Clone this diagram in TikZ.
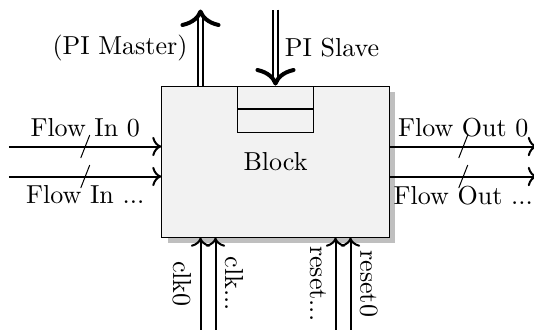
\documentclass[tikz,border=0pt]{standalone}
\usetikzlibrary{positioning,calc,shadows,arrows.meta}

\begin{document}
\begin{tikzpicture}[
  font=\fontsize{10.4}{12.5}\selectfont,
  block/.style={rectangle, draw, fill=black!5,
                minimum width=90.8pt, minimum height=60.4pt,
                general shadow={fill=gray!50, shadow xshift=2.4pt, shadow yshift=-2.4pt}},
  cell/.style={rectangle, draw, minimum width=30.4pt, minimum height=9pt, inner sep=0pt},
  arr/.style={-{To[scale=1.1]}, thick},
  piline/.style={thick, double, double distance=0.9pt, shorten >=1.6pt},
  pitip/.style={-{To[length=7pt, width=16pt, line width=1.6pt]}},
  busmark/.style={thin},
  sig/.style={rotate=-90},
]
  % Block with its FIFO
  \node[block] (block) {Block};
  \node[cell, below=0pt of block.north] (fifo1) {};
  \node[cell, below=0pt of fifo1] (fifo2) {};

  \useasboundingbox ($(block.center)+(-110.2pt,64.6pt)$) rectangle ($(block.center)+(103.4pt,-67pt)$);

  % Flow inputs
  \coordinate (in0) at ($(block.west)+(-61pt,6pt)$);
  \coordinate (inN) at ($(block.west)+(-61pt,-6pt)$);
  \draw[arr] (in0) -- coordinate[midway] (in0m) node[midway, above] (lin0) {Flow In 0} (in0 -| block.west);
  \draw[arr] (inN) -- coordinate[midway] (inNm) node[midway, below] (linN) {Flow In ...} (inN -| block.west);
  \draw[busmark] ($(in0m)+(1.8pt,4.6pt)$) -- ($(in0m)+(-1.8pt,-4.6pt)$);
  \draw[busmark] ($(inNm)+(1.8pt,4.6pt)$) -- ($(inNm)+(-1.8pt,-4.6pt)$);

  % Flow outputs
  \coordinate (out0) at ($(block.east)+(59pt,6pt)$);
  \coordinate (outN) at ($(block.east)+(59pt,-6pt)$);
  \draw[arr] (block.east |- out0) -- coordinate[midway] (out0m) node[midway, above] (lout0) {Flow Out 0} (out0);
  \draw[arr] (block.east |- outN) -- coordinate[midway] (outNm) node[midway, below] (loutN) {Flow Out ...} (outN);
  \draw[busmark] ($(out0m)+(1.8pt,4.6pt)$) -- ($(out0m)+(-1.8pt,-4.6pt)$);
  \draw[busmark] ($(outNm)+(1.8pt,4.6pt)$) -- ($(outNm)+(-1.8pt,-4.6pt)$);

  % PI ports
  \coordinate (pim) at ($(block.north)+(-30pt,30.4pt)$);
  \coordinate (pis) at ($(fifo1.north)+(0,30.4pt)$);
  \draw[piline] (block.north -| pim) -- node[midway, left, xshift=-1.5pt] (lpim) {(PI Master)} (pim);
  \draw[pitip] ($(pim)+(0,-0.1pt)$) -- (pim);
  \draw[piline] (pis) -- node[midway, right] (lpis) {PI Slave} (fifo1.north);
  \draw[pitip] ($(fifo1.north)+(0,0.1pt)$) -- (fifo1.north);

  % Clocks and resets
  \coordinate (clk0) at ($(block.south)+(-30pt,-37pt)$);
  \coordinate (clkN) at ($(block.south)+(-24pt,-37pt)$);
  \coordinate (rstN) at ($(block.south)+(24pt,-37pt)$);
  \coordinate (rst0) at ($(block.south)+(30pt,-37pt)$);
  \draw[arr] (clk0) -- node[midway, sig, anchor=north] (lclk0) {clk0} (clk0 |- block.south);
  \draw[arr] (clkN) -- node[midway, sig, anchor=south] (lclkN) {clk...} (clkN |- block.south);
  \draw[arr] (rstN) -- node[midway, sig, anchor=north] (lrstN) {reset...} (rstN |- block.south);
  \draw[arr] (rst0) -- node[midway, sig, anchor=south] (lrst0) {reset0} (rst0 |- block.south);
\end{tikzpicture}
\end{document}
